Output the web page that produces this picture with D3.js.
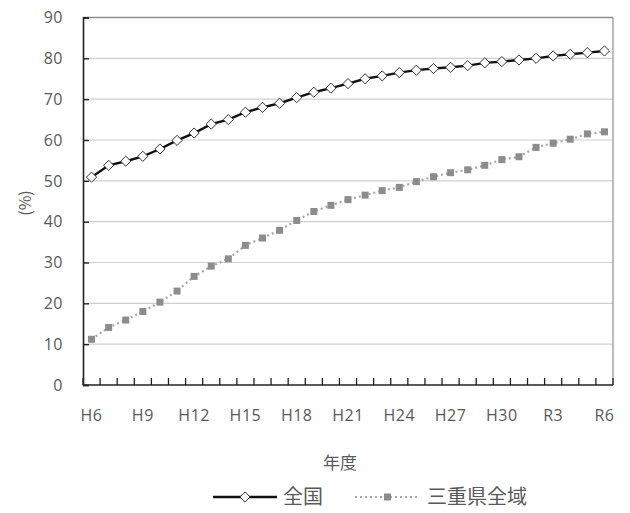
<!DOCTYPE html>
<html>
<head>
<meta charset="utf-8">
<script src="https://cdn.jsdelivr.net/npm/d3@7"></script>
<style>
  body { margin: 0; background: #fff; }
  svg text { font-family: "Noto Sans CJK JP", "Noto Sans", sans-serif; fill: #595959; }
  svg text.num { font-family: "Open Sans", "Noto Sans", sans-serif; }
</style>
</head>
<body>
<svg id="chart"></svg>
<script>
// 年度 H6 .. R6 (31 years)
const years = ['H6','H7','H8','H9','H10','H11','H12','H13','H14','H15','H16','H17','H18','H19','H20',
  'H21','H22','H23','H24','H25','H26','H27','H28','H29','H30','R1','R2','R3','R4','R5','R6'];
const tickLabels = ['H6','H9','H12','H15','H18','H21','H24','H27','H30','R3','R6'];
const yTicks = [0,10,20,30,40,50,60,70,80,90];

const zenkoku = [50.9,53.8,54.8,56.0,57.8,59.9,61.7,63.9,65.0,66.8,68.0,69.0,70.4,71.7,72.7,
  73.8,75.0,75.7,76.5,77.1,77.5,77.8,78.2,78.9,79.2,79.6,80.0,80.6,81.0,81.4,81.8];
const mie = [11.2,14.1,15.9,18.0,20.3,23.0,26.6,29.1,30.9,34.2,36.0,37.9,40.3,42.5,44.0,
  45.4,46.5,47.6,48.4,49.8,51.0,52.0,52.7,53.8,55.2,55.9,58.2,59.2,60.2,61.5,62.0];

const seriesNames = ['全国', '三重県全域'];

const width = 630, height = 513;
const margin = {left: 83, right: 17, top: 17.5, bottom: 128};

const svg = d3.select('#chart')
  .attr('width', width)
  .attr('height', height);

const xScale = d3.scaleBand()
  .domain(years)
  .range([margin.left, width - margin.right])
  .padding(0);

const yScale = d3.scaleLinear()
  .domain([0, 90])
  .range([height - margin.bottom, margin.top]);

const xc = d => xScale(d) + xScale.bandwidth() / 2;

// gridlines
svg.append('g')
  .selectAll('line')
  .data(yTicks.filter(d => d > 0))
  .enter().append('line')
  .attr('x1', margin.left).attr('x2', width - margin.right)
  .attr('y1', d => yScale(d)).attr('y2', d => yScale(d))
  .attr('stroke', '#cfcfcf').attr('stroke-width', 1.2);

// right / top border
svg.append('line')
  .attr('x1', width - margin.right).attr('x2', width - margin.right)
  .attr('y1', margin.top).attr('y2', yScale(0))
  .attr('stroke', '#a6a6a6').attr('stroke-width', 1.5);
svg.append('line')
  .attr('x1', margin.left).attr('x2', width - margin.right)
  .attr('y1', margin.top).attr('y2', margin.top)
  .attr('stroke', '#8c8c8c').attr('stroke-width', 1.5);

// y axis
const yAxisG = svg.append('g')
  .attr('transform', `translate(${margin.left},0)`)
  .call(d3.axisRight(yScale).tickValues(yTicks).tickSize(6).tickFormat(''));
yAxisG.select('.domain').attr('stroke', '#222').attr('stroke-width', 1.6);
yAxisG.selectAll('.tick line').attr('stroke', '#222').attr('stroke-width', 1.4);

svg.append('g')
  .selectAll('text')
  .data(yTicks)
  .enter().append('text')
  .attr('class', 'num')
  .attr('x', 63)
  .attr('y', d => yScale(d))
  .attr('dy', '0.36em')
  .attr('text-anchor', 'end')
  .style('font-size', '16px')
  .style('letter-spacing', '0.5px')
  .text(d => d);

// x axis: ticks between categories, pointing up
const bounds = years.map(d => xScale(d)).concat([width - margin.right]);
svg.append('g')
  .selectAll('line')
  .data(bounds)
  .enter().append('line')
  .attr('x1', d => d).attr('x2', d => d)
  .attr('y1', yScale(0)).attr('y2', yScale(0) - 7)
  .attr('stroke', '#222').attr('stroke-width', 1.3);
svg.append('line')
  .attr('x1', margin.left).attr('x2', width - margin.right)
  .attr('y1', yScale(0)).attr('y2', yScale(0))
  .attr('stroke', '#222').attr('stroke-width', 1.6);

svg.append('g')
  .selectAll('text')
  .data(tickLabels)
  .enter().append('text')
  .attr('class', 'num')
  .attr('x', d => xc(d))
  .attr('y', 421)
  .attr('text-anchor', 'middle')
  .style('font-size', '16px')
  .style('letter-spacing', '0.5px')
  .text(d => d);

// axis titles
svg.append('text')
  .attr('transform', 'translate(25,203) rotate(-90)')
  .attr('text-anchor', 'middle')
  .attr('dy', '0.35em')
  .style('font-size', '16px')
  .text('(%)');

svg.append('text')
  .attr('x', 340).attr('y', 463)
  .attr('text-anchor', 'middle')
  .attr('dy', '0.35em')
  .style('font-size', '17px')
  .text('年度');

// lines
const line = d3.line()
  .x((d, i) => xc(years[i]))
  .y(d => yScale(d));

svg.append('path')
  .datum(mie)
  .attr('fill', 'none')
  .attr('stroke', '#a6a6a6')
  .attr('stroke-width', 2.2)
  .attr('stroke-dasharray', '2,3')
  .attr('d', line);

svg.append('g')
  .selectAll('rect')
  .data(mie)
  .enter().append('rect')
  .attr('x', (d, i) => xc(years[i]) - 3.5)
  .attr('y', d => yScale(d) - 3.5)
  .attr('width', 7).attr('height', 7)
  .attr('fill', '#8c8c8c');

svg.append('path')
  .datum(zenkoku)
  .attr('fill', 'none')
  .attr('stroke', '#111')
  .attr('stroke-width', 2.4)
  .attr('d', line);

const diamond = d3.symbol().type(d3.symbolDiamond2).size(66);
svg.append('g')
  .selectAll('path')
  .data(zenkoku)
  .enter().append('path')
  .attr('transform', (d, i) => `translate(${xc(years[i])},${yScale(d)})`)
  .attr('d', diamond)
  .attr('fill', '#fff')
  .attr('stroke', '#333')
  .attr('stroke-width', 1);

// legend
const ly = 497;
svg.append('line')
  .attr('x1', 213).attr('x2', 277).attr('y1', ly).attr('y2', ly)
  .attr('stroke', '#111').attr('stroke-width', 2.4);
svg.append('path')
  .attr('transform', `translate(245,${ly})`)
  .attr('d', diamond)
  .attr('fill', '#fff').attr('stroke', '#333').attr('stroke-width', 1);
svg.append('text')
  .attr('x', 283).attr('y', ly).attr('dy', '0.35em')
  .style('font-size', '20px')
  .text(seriesNames[0]);

svg.append('line')
  .attr('x1', 355).attr('x2', 420).attr('y1', ly).attr('y2', ly)
  .attr('stroke', '#a6a6a6').attr('stroke-width', 2.2)
  .attr('stroke-dasharray', '2,3');
svg.append('rect')
  .attr('x', 384).attr('y', ly - 3.5).attr('width', 7).attr('height', 7)
  .attr('fill', '#8c8c8c');
svg.append('text')
  .attr('x', 427).attr('y', ly).attr('dy', '0.35em')
  .style('font-size', '20px')
  .text(seriesNames[1]);
</script>
</body>
</html>
